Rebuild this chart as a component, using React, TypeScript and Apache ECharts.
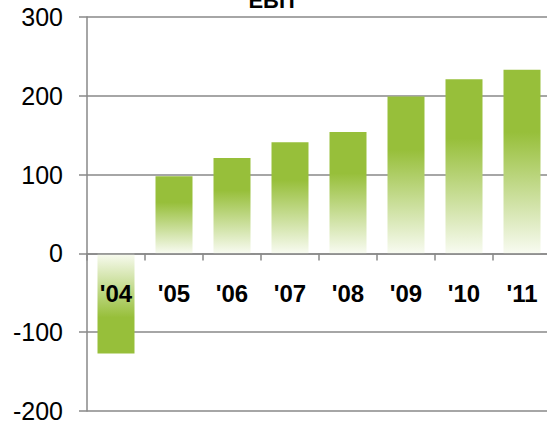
import React, { useEffect, useRef } from "react";
import * as echarts from "echarts";

const categories = ["'04", "'05", "'06", "'07", "'08", "'09", "'10", "'11"];
const ebitValues = [-127, 98, 121, 141, 154, 199, 221, 233];
const yMin = -200;
const yMax = 300;
const yInterval = 100;

const GREEN = "#97bf3a";
const GRAY = "#888888";

const GRID_TOP = 17;
const GRID_BOTTOM = 13;
const CHART_H = 424;

export default function App() {
  const ref = useRef<HTMLDivElement>(null);
  useEffect(() => {
    document.body.style.margin = "0";
    const chart = echarts.init(ref.current!, undefined, { renderer: "svg" });
    const posGrad = new echarts.graphic.LinearGradient(0, 0, 0, 1, [
      { offset: 0, color: GREEN },
      { offset: 0.34, color: GREEN },
      { offset: 1, color: "#f8fbf1" },
    ]);
    const negGrad = new echarts.graphic.LinearGradient(0, 0, 0, 1, [
      { offset: 0, color: "#f8fbf1" },
      { offset: 0.64, color: GREEN },
      { offset: 1, color: GREEN },
    ]);
    const gridH = CHART_H - GRID_TOP - GRID_BOTTOM;
    const zeroY = GRID_TOP + (gridH * (yMax - 0)) / (yMax - yMin);
    const xAxisOffset = -(CHART_H - GRID_BOTTOM - zeroY);
    chart.setOption({
      animation: false,
      title: {
        text: "EBIT",
        left: "center",
        top: -16,
        textStyle: {
          fontFamily: "Liberation Sans, Arial, sans-serif",
          fontWeight: "bold",
          fontSize: 22,
          color: "#000",
        },
      },
      grid: {
        left: 87,
        right: -4,
        top: GRID_TOP,
        bottom: GRID_BOTTOM,
        containLabel: false,
        outerBoundsMode: "none",
      },
      xAxis: {
        type: "category",
        data: categories,
        position: "bottom",
        offset: xAxisOffset,
        z: 5,
        axisLine: { show: true, onZero: false, lineStyle: { color: GRAY, width: 1.5 } },
        axisTick: { show: true, length: 7, lineStyle: { color: GRAY, width: 1.5 } },
        axisLabel: {
          margin: 28,
          fontSize: 24,
          fontWeight: "bold",
          fontFamily: "Liberation Sans, Arial, sans-serif",
          color: "#000",
        },
      },
      yAxis: {
        type: "value",
        min: yMin,
        max: yMax,
        interval: yInterval,
        axisLine: { show: true, lineStyle: { color: GRAY, width: 1.5 } },
        axisTick: { show: true, length: 8, lineStyle: { color: GRAY, width: 1.5 } },
        splitLine: { show: true, lineStyle: { color: GRAY, width: 1.5 } },
        axisLabel: {
          margin: 24,
          fontSize: 25,
          fontFamily: "Liberation Sans, Arial, sans-serif",
          color: "#000",
        },
      },
      series: [
        {
          type: "bar",
          barWidth: 37,
          data: ebitValues.map((v) => ({
            value: v,
            itemStyle: { color: v < 0 ? negGrad : posGrad },
          })),
        },
      ],
    });
    return () => chart.dispose();
  }, []);
  return <div ref={ref} style={{ width: 547, height: 424 }} />;
}
